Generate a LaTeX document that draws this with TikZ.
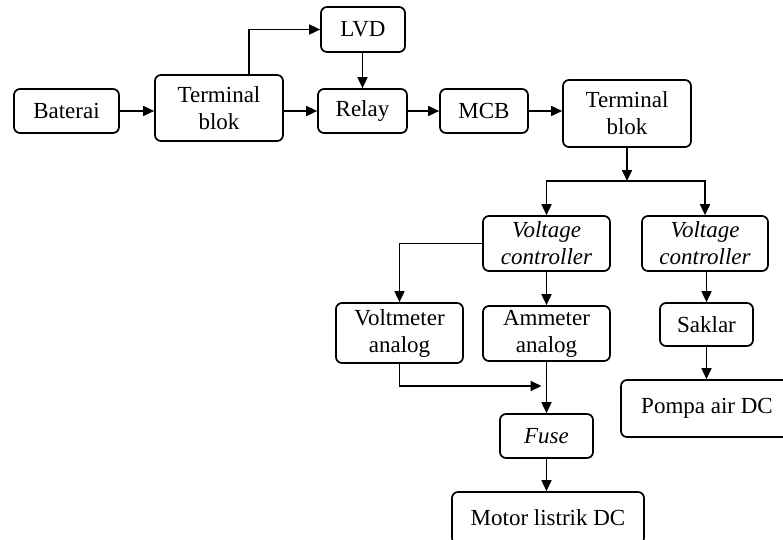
\documentclass[tikz,border=0pt]{standalone}
\usepackage{fontspec}
\setmainfont{Liberation Serif}
\usetikzlibrary{arrows.meta}
\begin{document}
\begin{tikzpicture}[x=1pt,y=-1pt,
  box/.style={draw, line width=1.7pt, rounded corners=6pt, inner sep=0pt, align=center,
    font=\fontsize{23}{27}\selectfont},
  arr/.style={line width=1.7pt, -{Triangle[length=11pt,width=10pt]}}]
\useasboundingbox (0,0) rectangle (783,539);
\node[box, minimum width=105pt, minimum height=44pt] (bat) at (66.5,111) {Baterai};
\node[box, minimum width=128pt, minimum height=66pt] (tb1) at (219,108) {Terminal\\blok};
\node[box, minimum width=84pt, minimum height=45pt] (lvd) at (363,29.5) {LVD};
\node[box, minimum width=89pt, minimum height=44pt] (relay) at (362.5,111) {Relay};
\node[box, minimum width=88pt, minimum height=44pt] (mcb) at (484,111) {MCB};
\node[box, minimum width=128pt, minimum height=67pt] (tb2) at (627,113.5) {Terminal\\blok};
\node[box, minimum width=127pt, minimum height=55pt] (vc1) at (546.5,243.5) {\itshape Voltage\\\itshape controller};
\node[box, minimum width=126pt, minimum height=55pt] (vc2) at (705,243.5) {\itshape Voltage\\\itshape controller};
\node[box, minimum width=127pt, minimum height=60pt] (vm) at (399.5,333) {Voltmeter\\analog};
\node[box, minimum width=127pt, minimum height=55pt] (am) at (546.5,333.5) {Ammeter\\analog};
\node[box, minimum width=93pt, minimum height=43pt] (sak) at (706.5,324.5) {Saklar};
\node[box, minimum width=172pt, minimum height=57pt] (pompa) at (707,408.5) {Pompa air DC};
\node[box, minimum width=93pt, minimum height=44pt] (fuse) at (546.5,436) {\itshape Fuse};
\node[box, minimum width=192pt, minimum height=52pt] (motor) at (548,518) {Motor listrik DC};
\coordinate (tbup) at (249,75);
\coordinate (split) at (627,181);
\coordinate (join) at (546.5,386);
\draw[arr] (bat.east) -- (bat.east -| tb1.west);
\draw[arr] (tb1.east |- relay) -- (relay);
\draw[arr] (tbup) |- (lvd.west);
\draw[arr] (lvd.south -| relay.north) -- (relay.north);
\draw[arr] (relay) -- (mcb);
\draw[arr] (mcb.east) -- (mcb.east -| tb2.west);
\draw[arr] (tb2) -- (split);
\draw[arr] (split) -| (vc1.north);
\draw[arr] (split) -| (vc2.north);
\draw[arr] (vc1.west) -| (vm.north);
\draw[arr] (vc1) -- (am);
\draw[arr] (vc2.south -| sak.north) -- (sak.north);
\draw[arr] (sak.south) -- (sak.south |- pompa.north);
\draw[arr, shorten >=5pt] (vm.south) |- (join);
\draw[arr] (am) -- (fuse);
\draw[arr] (fuse.south) -- (fuse.south |- motor.north);
\end{tikzpicture}
\end{document}
